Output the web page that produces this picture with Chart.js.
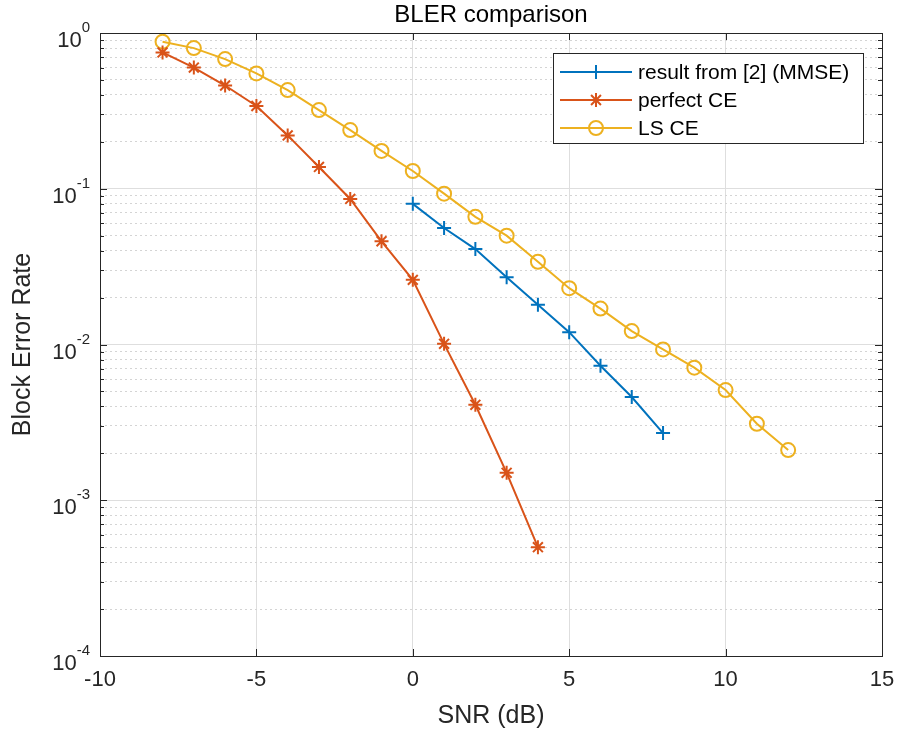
<!DOCTYPE html>
<html>
<head>
<meta charset="utf-8">
<title>BLER comparison</title>
<script src="https://cdn.jsdelivr.net/npm/chart.js@4.4.1/dist/chart.umd.min.js"></script>
<style>
  body { margin: 0; background: #fff; }
</style>
</head>
<body>
<canvas id="blerChart" width="898" height="733"></canvas>
<script>
// data
var snrMmse = [0, 1, 2, 3, 4, 5, 6, 7, 8];
var blerMmse = [0.08, 0.056, 0.041, 0.027, 0.018, 0.012, 0.0073, 0.0046, 0.0027];

var snrPerfect = [-8, -7, -6, -5, -4, -3, -2, -1, 0, 1, 2, 3, 4];
var blerPerfect = [0.75, 0.6, 0.46, 0.34, 0.22, 0.138, 0.086, 0.046, 0.026, 0.0101, 0.0041, 0.0015, 0.0005];

var snrLs = [-8, -7, -6, -5, -4, -3, -2, -1, 0, 1, 2, 3, 4, 5, 6, 7, 8, 9, 10, 11, 12];
var blerLs = [0.88, 0.8, 0.68, 0.55, 0.43, 0.32, 0.238, 0.175, 0.13, 0.093, 0.066, 0.05, 0.034, 0.023, 0.017, 0.0122, 0.0093, 0.0071, 0.0051, 0.0031, 0.0021];

var xTicks = [-10, -5, 0, 5, 10, 15];
var yExponents = [-4, -3, -2, -1, 0];
var minorMultipliers = [2, 3, 4, 5, 6, 7, 8, 9];

var FONT = '"Liberation Sans", Arial, Helvetica, sans-serif';
var AXIS_COLOR = '#262626';

function toPoints(xs, ys) {
  return xs.map(function (x, i) { return { x: x, y: ys[i] }; });
}

var majorY = yExponents.map(function (e) { return Math.pow(10, e); });
var minorY = [];
yExponents.slice(0, -1).forEach(function (e) {
  minorMultipliers.forEach(function (m) { minorY.push(m * Math.pow(10, e)); });
});

// box, inward ticks, superscript y labels, title and legend (MATLAB look)
var matlabAxes = {
  id: 'matlabAxes',
  afterDraw: function (chart) {
    var ctx = chart.ctx;
    var a = chart.chartArea;
    var xs = chart.scales.x, ys = chart.scales.y;
    ctx.save();
    ctx.strokeStyle = AXIS_COLOR;
    ctx.lineWidth = 1;

    // tick marks
    ctx.beginPath();
    xTicks.forEach(function (v) {
      var px = Math.round(xs.getPixelForValue(v)) + 0.5;
      ctx.moveTo(px, a.bottom); ctx.lineTo(px, a.bottom - 7);
      ctx.moveTo(px, a.top); ctx.lineTo(px, a.top + 7);
    });
    majorY.forEach(function (v) {
      var py = Math.round(ys.getPixelForValue(v)) + 0.5;
      ctx.moveTo(a.left, py); ctx.lineTo(a.left + 7, py);
      ctx.moveTo(a.right, py); ctx.lineTo(a.right - 7, py);
    });
    minorY.forEach(function (v) {
      var py = Math.round(ys.getPixelForValue(v)) + 0.5;
      ctx.moveTo(a.left, py); ctx.lineTo(a.left + 4, py);
      ctx.moveTo(a.right, py); ctx.lineTo(a.right - 4, py);
    });
    ctx.stroke();

    // box
    ctx.strokeRect(Math.round(a.left) + 0.5, Math.round(a.top) + 0.5,
      Math.round(a.right - a.left), Math.round(a.bottom - a.top));

    // y tick labels 10^e
    ctx.fillStyle = AXIS_COLOR;
    ctx.textBaseline = 'alphabetic';
    yExponents.forEach(function (e) {
      var py = ys.getPixelForValue(Math.pow(10, e));
      var sup = String(e);
      ctx.font = '15px ' + FONT;
      var supW = ctx.measureText(sup).width;
      ctx.textAlign = 'left';
      ctx.fillText(sup, 90 - supW, py - 1);
      ctx.font = '22px ' + FONT;
      ctx.textAlign = 'right';
      ctx.fillText('10', 90 - supW, py + 14);
    });

    // title
    ctx.fillStyle = '#000';
    ctx.font = '24px ' + FONT;
    ctx.textAlign = 'center';
    ctx.textBaseline = 'middle';
    ctx.fillText('BLER comparison', (a.left + a.right) / 2, 15);

    // legend
    var lx = 553, ly = 53, lw = 310, lh = 90;
    ctx.fillStyle = '#fff';
    ctx.fillRect(lx, ly, lw, lh);
    ctx.strokeStyle = AXIS_COLOR;
    ctx.lineWidth = 1;
    ctx.strokeRect(lx + 0.5, ly + 0.5, lw, lh);
    chart.data.datasets.forEach(function (ds, i) {
      var cy = ly + 19 + i * 28;
      ctx.strokeStyle = ds.borderColor;
      ctx.lineWidth = 2;
      ctx.beginPath();
      ctx.moveTo(lx + 7, cy); ctx.lineTo(lx + 79, cy);
      ctx.stroke();
      var cx = lx + 43, r = ds.pointRadius;
      ctx.beginPath();
      if (ds.pointStyle === 'circle') {
        ctx.arc(cx, cy, r, 0, Math.PI * 2);
      } else {
        ctx.moveTo(cx - r, cy); ctx.lineTo(cx + r, cy);
        ctx.moveTo(cx, cy - r); ctx.lineTo(cx, cy + r);
        if (ds.pointStyle === 'star') {
          var d = r * Math.SQRT1_2;
          ctx.moveTo(cx - d, cy - d); ctx.lineTo(cx + d, cy + d);
          ctx.moveTo(cx - d, cy + d); ctx.lineTo(cx + d, cy - d);
        }
      }
      ctx.stroke();
      ctx.fillStyle = '#000';
      ctx.font = '21px ' + FONT;
      ctx.textAlign = 'left';
      ctx.textBaseline = 'middle';
      ctx.fillText(ds.label, lx + 85, cy + 1);
    });
    ctx.restore();
  }
};

new Chart(document.getElementById('blerChart'), {
  type: 'line',
  data: {
    datasets: [{
      label: 'result from [2] (MMSE)',
      data: toPoints(snrMmse, blerMmse),
      borderColor: '#0072BD',
      pointBorderColor: '#0072BD',
      pointStyle: 'cross',
      pointRadius: 7,
      pointBorderWidth: 2,
      borderWidth: 2
    }, {
      label: 'perfect CE',
      data: toPoints(snrPerfect, blerPerfect),
      borderColor: '#D95319',
      pointBorderColor: '#D95319',
      pointStyle: 'star',
      pointRadius: 7,
      pointBorderWidth: 2,
      borderWidth: 2
    }, {
      label: 'LS CE',
      data: toPoints(snrLs, blerLs),
      borderColor: '#EDB120',
      pointBorderColor: '#EDB120',
      pointBackgroundColor: 'rgba(0,0,0,0)',
      pointStyle: 'circle',
      pointRadius: 7,
      pointBorderWidth: 2,
      borderWidth: 2
    }]
  },
  options: {
    responsive: false,
    animation: false,
    events: [],
    layout: { padding: { top: 33, right: 16, left: 0, bottom: 0 } },
    plugins: {
      legend: { display: false },
      tooltip: { enabled: false }
    },
    elements: { line: { tension: 0 } },
    scales: {
      x: {
        type: 'linear',
        min: -10,
        max: 15,
        afterBuildTicks: function (scale) {
          scale.ticks = xTicks.map(function (v) { return { value: v }; });
        },
        afterFit: function (scale) {
          scale.height = 77;
          scale.paddingLeft = 0;
          scale.paddingRight = 0;
        },
        grid: { color: '#dedede', drawTicks: false },
        border: { display: false },
        ticks: {
          color: AXIS_COLOR,
          padding: 11,
          font: { family: FONT, size: 22 }
        },
        title: {
          display: true,
          text: 'SNR (dB)',
          color: AXIS_COLOR,
          padding: { top: 4, bottom: 2 },
          font: { family: FONT, size: 25 }
        }
      },
      y: {
        type: 'logarithmic',
        min: 1e-4,
        max: 1,
        afterBuildTicks: function (scale) {
          scale.ticks = majorY.map(function (v) { return { value: v }; });
        },
        afterFit: function (scale) { scale.width = 100; },
        grid: { color: '#dedede', drawTicks: false },
        border: { display: false },
        ticks: { callback: function () { return ''; } },
        title: {
          display: true,
          text: 'Block Error Rate',
          color: AXIS_COLOR,
          padding: 8,
          font: { family: FONT, size: 25 }
        }
      },
      yMinor: {
        type: 'logarithmic',
        position: 'left',
        min: 1e-4,
        max: 1,
        afterBuildTicks: function (scale) {
          scale.ticks = minorY.map(function (v) { return { value: v }; });
        },
        afterFit: function (scale) { scale.width = 0; },
        grid: { color: '#d4d4d4', drawTicks: false },
        border: { display: false, dash: [2, 3] },
        ticks: { display: false }
      }
    }
  },
  plugins: [matlabAxes]
});
</script>
</body>
</html>
